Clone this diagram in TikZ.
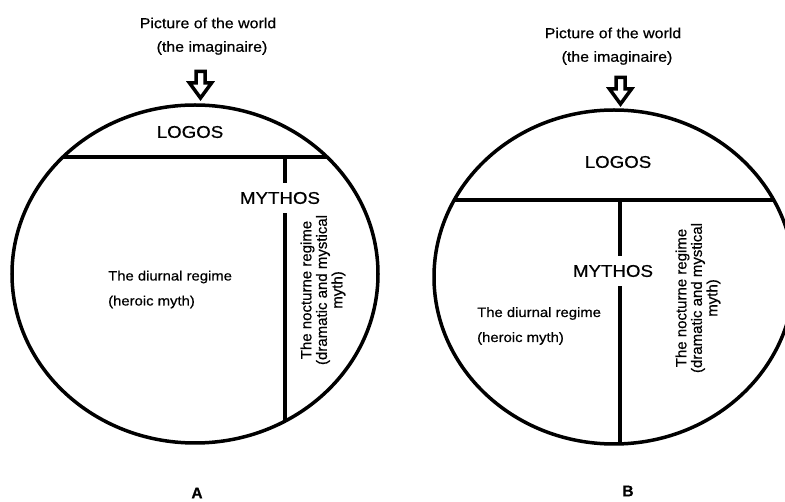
\documentclass[tikz,border=0pt]{standalone}
\usepackage{fontspec}
\setmainfont{Liberation Sans}[FakeBold=0.6]
\newfontfamily\widefont[FakeStretch=1.1,FakeBold=0.6]{Liberation Sans}
\begin{document}
\begin{tikzpicture}[x=1pt,y=-1pt,
  outline/.style={line width=3.5pt, draw=black},
  toptext/.style={font=\widefont\fontsize{14.5}{17}\selectfont, inner sep=0pt},
  bigtext/.style={font=\widefont\fontsize{17}{20}\selectfont, inner xsep=2pt, inner ysep=8.5pt},
  regime/.style={font=\widefont\fontsize{13.5}{25}\selectfont, align=left, inner sep=0pt},
  nocturne/.style={font=\fontsize{15}{15.5}\selectfont, align=center, rotate=90, inner sep=0pt},
  caselabel/.style={font=\bfseries\fontsize{15.5}{17}\selectfont, inner sep=0pt},
  hollowarrow/.style={line width=3.5pt, line join=miter, draw=black, fill=white}
]
\useasboundingbox (0,0) rectangle (785,502);
\clip (0,0) rectangle (785,502);

% ---------- Diagram A ----------
\node[toptext] (titleA) at (208,23) {Picture of the world};
\node[toptext] (subA) at (212,48) {(the imaginaire)};
\draw[hollowarrow] (196,71.5) -- (205,71.5) -- (205,83) -- (211.5,83) -- (200.5,98) -- (189.5,83) -- (196,83) -- cycle;

\draw[outline] (195,274) ellipse [x radius=183pt, y radius=169pt];
\coordinate (chordAl) at (63,157);
\coordinate (chordAr) at (327,157);
\coordinate (vertAt) at (285,157);
\coordinate (vertAb) at (285,421);
\draw[outline] (chordAl) -- (chordAr);
\draw[outline] (vertAt) -- (vertAb);

\node[bigtext] (logosA) at (190,132) {LOGOS};
\node[bigtext, fill=white] (mythosA) at (280,198) {MYTHOS};
\node[regime, anchor=west] (diurnalA) at (108,289.5) {The diurnal regime\\(heroic myth)};
\node[nocturne] (nocturneA) at (323,290) {The nocturne regime\\(dramatic and mystical\\myth)};
\node[caselabel] (labelA) at (197,493) {A};

% ---------- Diagram B ----------
\node[toptext] (titleB) at (613,33) {Picture of the world};
\node[toptext] (subB) at (617,58) {(the imaginaire)};
\draw[hollowarrow] (616,77.5) -- (625,77.5) -- (625,89) -- (631.5,89) -- (620.5,104) -- (609.5,89) -- (616,89) -- cycle;

\draw[outline] (614,277) ellipse [x radius=180pt, y radius=167pt];
\coordinate (chordBl) at (454,200);
\coordinate (chordBr) at (774,200);
\coordinate (vertBt) at (620,200);
\coordinate (vertBb) at (620,444);
\draw[outline] (chordBl) -- (chordBr);
\draw[outline] (vertBt) -- (vertBb);

\node[bigtext] (logosB) at (618,162) {LOGOS};
\node[bigtext, fill=white] (mythosB) at (613,271) {MYTHOS};
\node[regime, anchor=west] (diurnalB) at (477,326) {The diurnal regime\\(heroic myth)};
\node[nocturne] (nocturneB) at (698,298) {The nocturne regime\\(dramatic and mystical\\myth)};
\node[caselabel] (labelB) at (628,491) {B};
\end{tikzpicture}
\end{document}
